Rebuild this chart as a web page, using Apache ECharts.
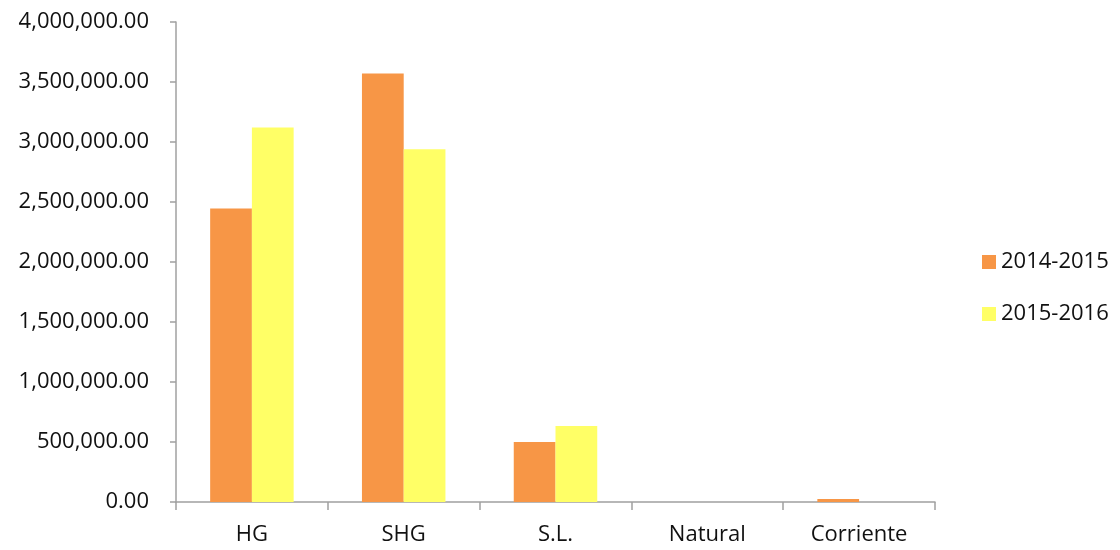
<!DOCTYPE html>
<html><head><meta charset="utf-8">
<script src="https://cdn.jsdelivr.net/npm/echarts@6/dist/echarts.min.js"></script>
<style>html,body{margin:0;padding:0;background:#fff}#c{width:1120px;height:550px}</style>
</head><body><div id="c"></div>
<script>
const categories = ['HG', 'SHG', 'S.L.', 'Natural', 'Corriente'];
const seriesNames = ['2014-2015', '2015-2016'];
const values2014 = [2445000, 3570000, 500000, 0, 25000];
const values2015 = [3120000, 2940000, 633000, 0, 0];
const colors = ['#F79646', '#FFFF66'];

function fmt(v) {
  return v.toLocaleString('en-US', {minimumFractionDigits: 2, maximumFractionDigits: 2});
}
const font = 'Open Sans';
const chart = echarts.init(document.getElementById('c'));
chart.setOption({
  animation: false,
  textStyle: {fontFamily: font},
  grid: {left: 176, right: 185, top: 22, bottom: 48},
  legend: {
    orient: 'vertical', left: 977, top: 246,
    itemWidth: 14, itemHeight: 14, itemGap: 30,
    icon: 'rect',
    textStyle: {fontSize: 22, color: '#111', fontFamily: font},
    data: seriesNames
  },
  xAxis: {
    type: 'category', data: categories,
    axisLine: {lineStyle: {color: '#a0a0a0', width: 1.5}},
    axisTick: {show: true, length: 8, lineStyle: {color: '#a0a0a0', width: 1.5}},
    axisLabel: {fontSize: 22, color: '#111', margin: 22, fontFamily: font}
  },
  yAxis: {
    type: 'value', min: 0, max: 4000000, interval: 500000,
    splitLine: {show: false},
    axisLine: {show: true, lineStyle: {color: '#a0a0a0', width: 1.5}},
    axisTick: {show: true, length: 6, lineStyle: {color: '#a0a0a0', width: 1.5}},
    axisLabel: {fontSize: 22, color: '#111', margin: 27, fontFamily: font, formatter: fmt}
  },
  series: [
    {name: seriesNames[0], type: 'bar', data: values2014, barGap: '0%', barCategoryGap: '45%',
     itemStyle: {color: colors[0]}},
    {name: seriesNames[1], type: 'bar', data: values2015, barGap: '0%', barCategoryGap: '45%',
     itemStyle: {color: colors[1]}}
  ]
});
</script></body></html>
